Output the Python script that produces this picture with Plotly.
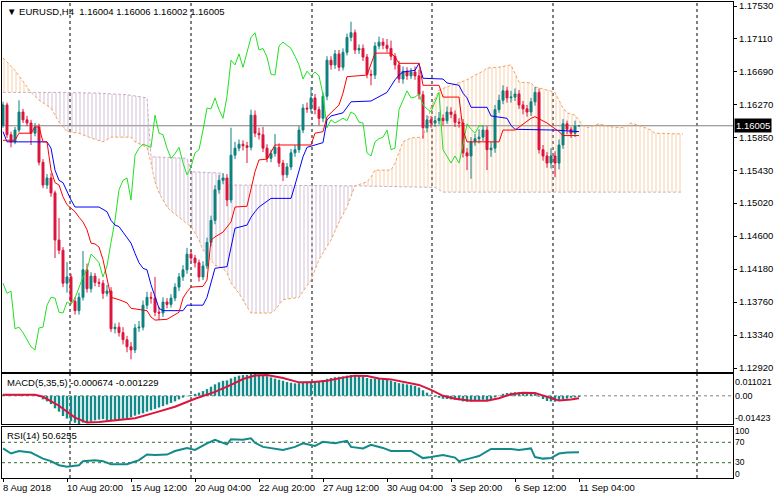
import plotly.graph_objects as go

# ---------------- data ----------------
bars = list(range(145))

opens = [1.1601, 1.1627, 1.1589, 1.1580, 1.1595, 1.1618, 1.1608, 1.1604, 1.1591, 1.1599,
         1.1554, 1.1525, 1.1534, 1.1515, 1.1455, 1.1442, 1.1400, 1.1408, 1.1377, 1.1365,
         1.1382, 1.1417, 1.1393, 1.1409, 1.1401, 1.1400, 1.1387, 1.1390, 1.1342, 1.1344,
         1.1337, 1.1328, 1.1319, 1.1315, 1.1343, 1.1344, 1.1372, 1.1382, 1.1381, 1.1363,
         1.1362, 1.1376, 1.1373, 1.1381, 1.1395, 1.1408, 1.1417, 1.1437, 1.1432, 1.1426,
         1.1408, 1.1422, 1.1452, 1.1480, 1.1519, 1.1531, 1.1534, 1.1506, 1.1563, 1.1572,
         1.1577, 1.1575, 1.1573, 1.1614, 1.1591, 1.1589, 1.1572, 1.1559, 1.1565, 1.1573,
         1.1553, 1.1538, 1.1548, 1.1566, 1.1570, 1.1595, 1.1623, 1.1622, 1.1636, 1.1621,
         1.1610, 1.1638, 1.1684, 1.1678, 1.1692, 1.1675, 1.1694, 1.1713, 1.1719, 1.1697,
         1.1699, 1.1688, 1.1666, 1.1665, 1.1702, 1.1707, 1.1703, 1.1699, 1.1689, 1.1678,
         1.1660, 1.1670, 1.1664, 1.1669, 1.1664, 1.1640, 1.1598, 1.1608, 1.1604, 1.1607,
         1.1610, 1.1607, 1.1618, 1.1615, 1.1605, 1.1604, 1.1566, 1.1562, 1.1580, 1.1584,
         1.1586, 1.1595, 1.1570, 1.1572, 1.1621, 1.1633, 1.1645, 1.1636, 1.1637, 1.1641,
         1.1627, 1.1622, 1.1618, 1.1631, 1.1643, 1.1570, 1.1562, 1.1553, 1.1562, 1.1553,
         1.1576, 1.1603, 1.1596, 1.1591, 1.16004]

highs = [1.1631, 1.1630, 1.1593, 1.1599, 1.1633, 1.1622, 1.1613, 1.1608, 1.1604, 1.1603,
         1.1558, 1.1539, 1.1540, 1.1518, 1.1483, 1.1446, 1.1427, 1.1412, 1.1382, 1.1388,
         1.1441, 1.1425, 1.1414, 1.1413, 1.1406, 1.1404, 1.1398, 1.1395, 1.1349, 1.1350,
         1.1344, 1.1333, 1.1325, 1.1348, 1.1352, 1.1378, 1.1389, 1.1389, 1.1408, 1.1370,
         1.1382, 1.1381, 1.1386, 1.1400, 1.1413, 1.1423, 1.1445, 1.1442, 1.1436, 1.1430,
         1.1428, 1.1458, 1.1486, 1.1525, 1.1538, 1.1540, 1.1539, 1.1598, 1.1580, 1.1583,
         1.1582, 1.1580, 1.1621, 1.1620, 1.1598, 1.1599, 1.1577, 1.1570, 1.1590, 1.1578,
         1.1557, 1.1553, 1.1571, 1.1576, 1.1600, 1.1628, 1.1630, 1.1650, 1.1641, 1.1625,
         1.1643, 1.1689, 1.1689, 1.1697, 1.1697, 1.1699, 1.1718, 1.1733, 1.1723, 1.1704,
         1.1704, 1.1692, 1.1672, 1.1707, 1.1714, 1.1712, 1.1711, 1.1709, 1.1693, 1.1683,
         1.1676, 1.1675, 1.1674, 1.1676, 1.1672, 1.1645, 1.1614, 1.1613, 1.1613, 1.1618,
         1.1615, 1.1625, 1.1624, 1.1620, 1.1610, 1.1609, 1.1572, 1.1586, 1.1590, 1.1596,
         1.1601, 1.1600, 1.1580, 1.1627, 1.1640, 1.1652, 1.1650, 1.1645, 1.1648, 1.1646,
         1.1632, 1.1627, 1.1636, 1.1650, 1.1648, 1.1576, 1.1567, 1.1572, 1.1568, 1.1583,
         1.1609, 1.1607, 1.1599, 1.1607, 1.16006]

lows = [1.1598, 1.1585, 1.1573, 1.1577, 1.1592, 1.1604, 1.1600, 1.1576, 1.1587, 1.1550,
        1.1521, 1.1520, 1.1510, 1.1432, 1.1437, 1.1395, 1.1388, 1.1373, 1.1360, 1.1360,
        1.1378, 1.1388, 1.1388, 1.1396, 1.1395, 1.1380, 1.1383, 1.1338, 1.1336, 1.1332,
        1.1322, 1.1312, 1.1303, 1.1311, 1.1338, 1.1340, 1.1367, 1.1374, 1.1358, 1.1353,
        1.1357, 1.1368, 1.1369, 1.1377, 1.1390, 1.1403, 1.1412, 1.1427, 1.1420, 1.1402,
        1.1404, 1.1418, 1.1447, 1.1475, 1.1514, 1.1526, 1.1498, 1.1502, 1.1558, 1.1568,
        1.1569, 1.1553, 1.1569, 1.1586, 1.1583, 1.1567, 1.1554, 1.1554, 1.1561, 1.1548,
        1.1530, 1.1534, 1.1544, 1.1561, 1.1566, 1.1591, 1.1617, 1.1617, 1.1615, 1.1601,
        1.1605, 1.1633, 1.1672, 1.1673, 1.1670, 1.1671, 1.1690, 1.1708, 1.1692, 1.1692,
        1.1683, 1.1661, 1.1652, 1.1660, 1.1698, 1.1698, 1.1694, 1.1684, 1.1672, 1.1655,
        1.1654, 1.1659, 1.1660, 1.1659, 1.1634, 1.1584, 1.1592, 1.1598, 1.1599, 1.1602,
        1.1601, 1.1603, 1.1610, 1.1599, 1.1598, 1.1560, 1.1544, 1.1533, 1.1575, 1.1578,
        1.1581, 1.1544, 1.1561, 1.1566, 1.1617, 1.1628, 1.1630, 1.1630, 1.1632, 1.1622,
        1.1615, 1.1612, 1.1613, 1.1626, 1.1565, 1.1556, 1.1547, 1.1546, 1.1535, 1.1545,
        1.1571, 1.1590, 1.1585, 1.1586, 1.16002]

closes = [1.1627, 1.1589, 1.1580, 1.1595, 1.1618, 1.1608, 1.1604, 1.1591, 1.1599, 1.1554,
          1.1525, 1.1534, 1.1515, 1.1455, 1.1442, 1.1400, 1.1408, 1.1377, 1.1365, 1.1382,
          1.1417, 1.1393, 1.1409, 1.1401, 1.1400, 1.1387, 1.1390, 1.1342, 1.1344, 1.1337,
          1.1328, 1.1319, 1.1315, 1.1343, 1.1344, 1.1372, 1.1382, 1.1381, 1.1363, 1.1362,
          1.1376, 1.1373, 1.1381, 1.1395, 1.1408, 1.1417, 1.1437, 1.1432, 1.1426, 1.1408,
          1.1422, 1.1452, 1.1480, 1.1519, 1.1531, 1.1534, 1.1506, 1.1563, 1.1572, 1.1577,
          1.1575, 1.1573, 1.1614, 1.1591, 1.1589, 1.1572, 1.1559, 1.1565, 1.1573, 1.1553,
          1.1538, 1.1548, 1.1566, 1.1570, 1.1595, 1.1623, 1.1622, 1.1636, 1.1621, 1.1610,
          1.1638, 1.1684, 1.1678, 1.1692, 1.1675, 1.1694, 1.1713, 1.1719, 1.1697, 1.1699,
          1.1688, 1.1666, 1.1665, 1.1702, 1.1707, 1.1703, 1.1699, 1.1689, 1.1678, 1.1660,
          1.1670, 1.1664, 1.1669, 1.1664, 1.1640, 1.1598, 1.1608, 1.1604, 1.1607, 1.1610,
          1.1607, 1.1618, 1.1615, 1.1605, 1.1604, 1.1566, 1.1562, 1.1580, 1.1584, 1.1586,
          1.1595, 1.1570, 1.1572, 1.1621, 1.1633, 1.1645, 1.1636, 1.1637, 1.1641, 1.1627,
          1.1622, 1.1618, 1.1631, 1.1643, 1.1570, 1.1562, 1.1553, 1.1562, 1.1553, 1.1576,
          1.1603, 1.1596, 1.1591, 1.1600, 1.16005]

last_price = 1.16005
chikou_shift = 24

tenkan_idx = [0, 3, 4, 7, 8, 9, 10, 11, 12, 13, 14, 15, 16, 18, 19, 20, 21, 22, 23, 24, 25, 26, 27, 29,
              31, 32, 36, 37, 38, 41, 42, 44, 45, 46, 47, 50, 51, 52, 53, 55, 57, 58, 61, 62, 63, 64,
              66, 68, 77, 78, 80, 81, 82, 83, 84, 85, 86, 91, 93, 97, 98, 99, 104, 105, 109, 110,
              114, 115, 116, 124, 125, 128, 132, 133, 136, 139, 140, 144]
tenkan_val = [1.1582, 1.1582, 1.1591, 1.1591, 1.1599, 1.1599, 1.1580, 1.1580, 1.1544, 1.1528, 1.1525,
              1.1510, 1.1500, 1.1491, 1.1484, 1.1478, 1.1468, 1.1451, 1.1450, 1.1446, 1.1430, 1.1408,
              1.1382, 1.1379, 1.1375, 1.1368, 1.1365, 1.1357, 1.1353, 1.1354, 1.1357, 1.1363, 1.1381,
              1.1389, 1.1395, 1.1396, 1.1404, 1.1455, 1.1459, 1.1465, 1.1478, 1.1497, 1.1498, 1.1522,
              1.1542, 1.1557, 1.1558, 1.1576, 1.1576, 1.1591, 1.1593, 1.1612, 1.1617, 1.1621, 1.1627,
              1.1642, 1.1663, 1.1665, 1.1693, 1.1693, 1.1688, 1.1680, 1.1680, 1.1652, 1.1652, 1.1637,
              1.1637, 1.1595, 1.1580, 1.1580, 1.1595, 1.1595, 1.1610, 1.1612, 1.1604, 1.1593, 1.1588,
              1.1588]

kijun_idx = [0, 1, 11, 12, 13, 14, 15, 16, 17, 18, 24, 26, 27, 28, 29, 30, 31, 32, 33, 34, 35, 36,
             37, 38, 39, 40, 45, 46, 50, 51, 52, 53, 56, 57, 58, 61, 62, 63, 64, 67, 72, 73, 74, 75,
             76, 80, 81, 82, 85, 86, 87, 92, 94, 96, 98, 99, 100, 103, 104, 105, 110, 111, 114, 115,
             116, 117, 121, 122, 126, 127, 128, 138, 144]
kijun_val = [1.1593, 1.1580, 1.1580, 1.1572, 1.1544, 1.1531, 1.1528, 1.1516, 1.1506, 1.1497, 1.1497,
             1.1491, 1.1480, 1.1474, 1.1472, 1.1465, 1.1458, 1.1451, 1.1438, 1.1426, 1.1419, 1.1417,
             1.1398, 1.1382, 1.1368, 1.1365, 1.1365, 1.1372, 1.1372, 1.1382, 1.1400, 1.1419, 1.1421,
             1.1446, 1.1470, 1.1474, 1.1484, 1.1491, 1.1497, 1.1508, 1.1508, 1.1525, 1.1544, 1.1561,
             1.1573, 1.1579, 1.1608, 1.1613, 1.1617, 1.1624, 1.1631, 1.1632, 1.1637, 1.1643, 1.1659,
             1.1665, 1.1669, 1.1671, 1.1680, 1.1661, 1.1660, 1.1655, 1.1652, 1.1642, 1.1636, 1.1624,
             1.1624, 1.1613, 1.1610, 1.1601, 1.1596, 1.1595, 1.1593]

span_a_idx = [0, 3, 7, 9, 12, 14, 16, 19, 22, 25, 27, 32, 33, 36, 37, 38, 39, 41, 42, 44, 46, 47, 48,
              49, 50, 52, 53, 55, 56, 57, 58, 59, 61, 62, 67, 68, 70, 74, 77, 79, 82, 84, 86, 87, 88,
              91, 92, 93, 97, 98, 99, 100, 102, 105, 107, 109, 111, 114, 116, 118, 120, 121, 124, 127,
              128, 129, 132, 133, 136, 138, 139, 140, 141, 143, 145, 146, 149, 152, 155, 157, 160, 162,
              163, 170]
span_a_val = [1.1687, 1.1671, 1.1643, 1.1633, 1.1623, 1.1605, 1.1593, 1.1591, 1.1585, 1.1580, 1.1586,
              1.1586, 1.1580, 1.1573, 1.1553, 1.1529, 1.1515, 1.1497, 1.1492, 1.1484, 1.1477, 1.1472,
              1.1464, 1.1455, 1.1442, 1.1430, 1.1423, 1.1419, 1.1413, 1.1400, 1.1394, 1.1387, 1.1370,
              1.1362, 1.1362, 1.1366, 1.1379, 1.1382, 1.1404, 1.1430, 1.1455, 1.1478, 1.1497, 1.1510,
              1.1524, 1.1529, 1.1535, 1.1544, 1.1544, 1.1553, 1.1566, 1.1580, 1.1585, 1.1586, 1.1624,
              1.1646, 1.1650, 1.1655, 1.1659, 1.1665, 1.1670, 1.1674, 1.1675, 1.1678, 1.1668, 1.1656,
              1.1655, 1.1650, 1.1646, 1.1643, 1.1633, 1.1623, 1.1617, 1.1614, 1.1601, 1.1598, 1.1603,
              1.1599, 1.1598, 1.1604, 1.1599, 1.1595, 1.1591, 1.1590]

span_b_idx = [0, 7, 14, 24, 31, 36, 37, 46, 47, 55, 56, 88, 108, 110, 170]
span_b_val = [1.1643, 1.1643, 1.1643, 1.1642, 1.1640, 1.1636, 1.1561, 1.1559, 1.1542, 1.1540, 1.1525,
              1.1524, 1.1522, 1.1516, 1.1516]
cloud_cross_idx = [0, 7, 88, 170]

macd_milli = [0.6, 0.7, 0.6, 0.5, 0.6, 0.5, 0.4, 0.2, 0.1, -0.5,
              -1.8, -2.8, -4.2, -6.3, -8.0, -10.2, -11.5, -12.8, -13.6, -14.23,
              -13.5, -13.4, -13.0, -12.4, -12.0, -11.8, -12.5, -12.6, -12.3, -11.8,
              -11.6, -11.3, -10.8, -10.0, -9.4, -8.8, -8.0, -7.3, -6.6, -5.9,
              -5.2, -4.4, -3.6, -2.8, -1.8, -0.9, -0.2, 0.4, 1.0, 1.6,
              2.4, 3.4, 4.6, 5.8, 6.8, 7.6, 7.8, 8.8, 9.6, 10.2,
              10.5, 10.6, 11.0, 11.02, 10.8, 10.5, 9.9, 9.3, 8.7, 8.1,
              7.6, 7.0, 6.6, 6.3, 6.4, 6.8, 7.2, 7.4, 7.4, 7.3,
              7.8, 8.6, 9.0, 9.4, 9.6, 9.8, 10.2, 10.5, 10.4, 10.0,
              9.6, 9.0, 8.6, 8.7, 8.6, 8.4, 8.0, 7.6, 7.0, 6.4,
              6.2, 5.8, 5.4, 5.0, 4.2, 2.8, 1.6, 0.6, -0.4, -1.0,
              -1.5, -1.6, -1.8, -1.9, -2.2, -2.8, -3.0, -2.8, -2.6, -2.4,
              -2.0, -2.2, -1.6, -0.8, 0.2, 1.0, 1.4, 1.6, 1.8, 1.8,
              1.6, 1.3, 1.3, 1.5, -0.4, -1.6, -2.6, -2.8, -3.0, -2.6,
              -1.8, -1.4, -1.0, -0.8, -0.674]
signal_idx = [0, 8, 10, 14, 18, 21, 24, 28, 33, 38, 43, 48, 50, 53, 57, 60, 63, 66, 70, 74, 77, 81,
              85, 88, 91, 94, 97, 100, 104, 107, 110, 113, 117, 121, 124, 127, 130, 133, 136, 139, 142, 144]
signal_milli = [0.5, 0.5, -0.5, -5.0, -11.0, -13.5, -13.2, -12.4, -11.3, -8.5, -5.5, -1.5, 0.0, 2.0,
                5.5, 8.5, 10.3, 10.5, 9.0, 6.8, 6.8, 7.6, 9.2, 10.2, 10.0, 8.8, 8.3, 7.0, 5.5, 3.0,
                0.0, -1.5, -2.5, -2.5, -1.2, 0.8, 1.6, 1.4, -0.6, -2.4, -1.8, -1.229]
macd_max, macd_min = 0.011021, -0.01423

rsi_idx = [0, 2, 4, 7, 8, 10, 12, 14, 16, 19, 20, 23, 25, 27, 31, 34, 36, 38, 41, 43, 46, 48, 51, 53,
           56, 57, 60, 62, 63, 65, 70, 73, 75, 78, 80, 83, 86, 87, 90, 92, 95, 97, 102, 105, 107, 110,
           113, 114, 117, 119, 122, 127, 129, 132, 133, 135, 137, 139, 141, 144]
rsi_val = [58, 48, 53, 50, 46, 38, 33, 25, 22, 25, 33, 35, 33, 27, 27, 35, 46, 45, 46, 53, 59, 55, 68,
           75, 66, 76, 75, 78, 69, 61, 55, 61, 68, 63, 71, 68, 73, 61, 58, 65, 59, 53, 53, 39, 41, 45,
           40, 33, 39, 43, 57, 57, 55, 58, 41, 38, 39, 48, 50, 50.6255]
rsi_levels = [70, 30]

price_ticks = [1.17530, 1.17110, 1.16690, 1.16270, 1.15850, 1.15430, 1.15020, 1.14600,
               1.14180, 1.13760, 1.13340, 1.12920]
time_label_bars = [0, 16, 32, 48, 64, 80, 96, 112, 128, 144]
time_labels = ["8 Aug 2018", "10 Aug 20:00", "15 Aug 12:00", "20 Aug 04:00", "22 Aug 20:00",
               "27 Aug 12:00", "30 Aug 04:00", "3 Sep 20:00", "6 Sep 12:00", "11 Sep 04:00"]
grid_bars = [16.75, 47, 77.25, 107.25, 137.5, 173.5]

# ---------------- styling ----------------
FONT = "Liberation Sans, Arial, sans-serif"
FS = 9.5
FS_SMALL = 9
FS_RSI = 8.5
BULL = "#0f8080"
BEAR = "#dc143c"
SANDY = "#f4a460"
THISTLE = "#c9aec9"
LIME = "#22e022"
HIST = "#138a8a"

P_MIN, P_MAX = 1.12869, 1.17581
X_RANGE = [-0.25, 182.5]

fig = go.Figure()

# Ichimoku cloud (base price axis, drawn beneath candles)
def part(idx, val, a, b):
    xs = [i for i in idx if a <= i <= b]
    ys = [v for i, v in zip(idx, val) if a <= i <= b]
    return xs, ys

for a, b in zip(cloud_cross_idx[:-1], cloud_cross_idx[1:]):
    ax_, ay_ = part(span_a_idx, span_a_val, a, b)
    bx_, by_ = part(span_b_idx, span_b_val, a, b)
    a_above = sum(ay_) / len(ay_) > sum(by_) / len(by_)
    col = SANDY if a_above else THISTLE
    op = 0.55 if a_above else 0.8
    fig.add_trace(go.Scatter(
        x=ax_ + bx_[::-1], y=ay_ + by_[::-1], mode="none", fill="toself",
        fillcolor="rgba(0,0,0,0)",
        fillpattern=dict(shape="|", fgcolor=col, bgcolor="rgba(0,0,0,0)",
                         size=4, solidity=0.25, fgopacity=op),
        hoverinfo="skip", showlegend=False, xaxis="x", yaxis="y"))

fig.add_trace(go.Scatter(x=span_a_idx, y=span_a_val, mode="lines",
                         line=dict(color=SANDY, width=1, dash="3px,2px"),
                         hoverinfo="skip", showlegend=False, xaxis="x", yaxis="y"))
fig.add_trace(go.Scatter(x=span_b_idx, y=span_b_val, mode="lines",
                         line=dict(color=THISTLE, width=1, dash="3px,2px"),
                         hoverinfo="skip", showlegend=False, xaxis="x", yaxis="y"))

# Candles on an overlaying axis so they sit above the cloud
fig.add_trace(go.Candlestick(
    x=bars, open=opens, high=highs, low=lows, close=closes,
    increasing=dict(line=dict(color=BULL, width=1), fillcolor=BULL),
    decreasing=dict(line=dict(color=BEAR, width=1), fillcolor=BEAR),
    whiskerwidth=0, showlegend=False, hoverinfo="skip", xaxis="x", yaxis="y4"))

fig.add_trace(go.Scatter(x=[b - chikou_shift for b in bars[chikou_shift:]],
                         y=closes[chikou_shift:], mode="lines",
                         line=dict(color=LIME, width=1), hoverinfo="skip",
                         showlegend=False, xaxis="x", yaxis="y4"))
fig.add_trace(go.Scatter(x=kijun_idx, y=kijun_val, mode="lines",
                         line=dict(color="#0000ff", width=1), hoverinfo="skip",
                         showlegend=False, xaxis="x", yaxis="y4"))
fig.add_trace(go.Scatter(x=tenkan_idx, y=tenkan_val, mode="lines",
                         line=dict(color="#ff0000", width=1), hoverinfo="skip",
                         showlegend=False, xaxis="x", yaxis="y4"))

# MACD
fig.add_trace(go.Bar(x=bars, y=[v / 1000 for v in macd_milli], width=0.6,
                     marker=dict(color=HIST, line=dict(width=0)),
                     hoverinfo="skip", showlegend=False, xaxis="x2", yaxis="y2"))
fig.add_trace(go.Scatter(x=signal_idx, y=[v / 1000 for v in signal_milli], mode="lines",
                         line=dict(color=BEAR, width=2), hoverinfo="skip",
                         showlegend=False, xaxis="x2", yaxis="y2"))

# RSI
fig.add_trace(go.Scatter(x=rsi_idx, y=rsi_val, mode="lines",
                         line=dict(color=HIST, width=2), hoverinfo="skip",
                         showlegend=False, xaxis="x3", yaxis="y3"))

# ---------------- layout ----------------
H_PLOT = 476.0
def dom(top_px, bot_px):
    return [(478 - bot_px) / H_PLOT, (478 - top_px) / H_PLOT]

axis_common = dict(showgrid=False, zeroline=False, showline=True, mirror=True,
                   linecolor="black", linewidth=1, automargin=False)

shapes = []
for yr in ["y", "y2", "y3"]:
    for g in grid_bars:
        shapes.append(dict(type="line", xref="x", yref=yr + " domain", x0=g, x1=g, y0=0, y1=1,
                           line=dict(color="black", width=1, dash="3px,3px"), layer="below"))
shapes.append(dict(type="line", xref="x domain", yref="y", x0=0, x1=1, y0=last_price, y1=last_price,
                   line=dict(color="#808080", width=1), layer="below"))
shapes.append(dict(type="line", xref="x domain", yref="y2", x0=0, x1=1, y0=0, y1=0,
                   line=dict(color="#808080", width=1, dash="3px,3px"), layer="below"))
for lv in rsi_levels:
    shapes.append(dict(type="line", xref="x domain", yref="y3", x0=0, x1=1, y0=lv, y1=lv,
                       line=dict(color="#2f6a2f", width=1, dash="3px,3px"), layer="below"))

ann = []
ann.append(dict(xref="paper", yref="paper", x=0, y=1, xanchor="left", yanchor="top",
                xshift=3, yshift=-2, showarrow=False,
                text="▼ EURUSD,H4  1.16004 1.16006 1.16002 1.16005",
                font=dict(family=FONT, size=FS, color="black")))
ann.append(dict(xref="paper", yref="y domain", x=1, y=(last_price - P_MIN) / (P_MAX - P_MIN),
                xanchor="left", yanchor="middle", xshift=1, showarrow=False,
                text="1.16005", bgcolor="black", borderpad=1,
                font=dict(family=FONT, size=FS, color="white")))
ann.append(dict(xref="paper", yref="y2 domain", x=0, y=0.84, xanchor="left", yanchor="middle",
                xshift=3, showarrow=False, text="MACD(5,35,5) -0.000674 -0.001229",
                font=dict(family=FONT, size=FS, color="black")))
ann.append(dict(xref="paper", yref="y3 domain", x=0, y=0.84, xanchor="left", yanchor="middle",
                xshift=3, showarrow=False, text="RSI(14) 50.6255",
                font=dict(family=FONT, size=FS, color="black")))
for txt, yy, yref, fs in [("0.011021", 0.84, "y2 domain", FS_SMALL), ("0.00", 0, "y2", FS_SMALL),
                          ("-0.01423", 0.12, "y2 domain", FS_SMALL),
                          ("100", 0.92, "y3 domain", FS_RSI), ("70", 70, "y3", FS_RSI),
                          ("30", 31, "y3", FS_RSI), ("0", 0.07, "y3 domain", FS_RSI)]:
    ann.append(dict(xref="paper", yref=yref, x=1, y=yy, xanchor="left", yanchor="middle",
                    xshift=1, showarrow=False, text=txt, borderpad=0,
                    font=dict(family=FONT, size=fs, color="black")))
for b, t in zip(time_label_bars, time_labels):
    ann.append(dict(xref="x3", yref="paper", x=b, y=0, xanchor="left", yanchor="top",
                    xshift=-2, yshift=-2, showarrow=False, text=t,
                    font=dict(family=FONT, size=FS, color="black")))

fig.update_layout(
    width=775, height=498, template="none",
    margin=dict(l=2, r=42, t=2, b=20, pad=0),
    paper_bgcolor="white", plot_bgcolor="white",
    font=dict(family=FONT, size=FS, color="black"),
    showlegend=False, hovermode=False, dragmode=False,
    xaxis=dict(axis_common, domain=[0, 1], range=X_RANGE, anchor="y",
               showticklabels=False, ticks="", rangeslider=dict(visible=False)),
    xaxis2=dict(axis_common, domain=[0, 1], range=X_RANGE, anchor="y2", matches="x",
                showticklabels=False, ticks=""),
    xaxis3=dict(axis_common, domain=[0, 1], range=X_RANGE, anchor="y3", matches="x",
                showticklabels=False, ticks="outside", ticklen=3, tickcolor="black",
                tickvals=time_label_bars),
    yaxis=dict(axis_common, domain=dom(2, 372), range=[P_MIN, P_MAX], side="right", anchor="x",
               tickvals=price_ticks, ticktext=[f"{v:.5f}" for v in price_ticks],
               ticks="outside", ticklen=3, tickcolor="black",
               tickfont=dict(family=FONT, size=FS, color="black")),
    yaxis4=dict(range=[P_MIN, P_MAX], overlaying="y", anchor="x", side="right",
                visible=False, showgrid=False, zeroline=False),
    yaxis2=dict(axis_common, domain=dom(374, 424), range=[macd_min, macd_max], side="right",
                anchor="x2", showticklabels=False, ticks=""),
    yaxis3=dict(axis_common, domain=dom(427, 478), range=[0, 100], side="right",
                anchor="x3", showticklabels=False, ticks=""),
    shapes=shapes, annotations=ann,
)

fig.write_html("out.html", config={"displayModeBar": False, "staticPlot": True},
               post_script="document.body.style.margin='0px';")
